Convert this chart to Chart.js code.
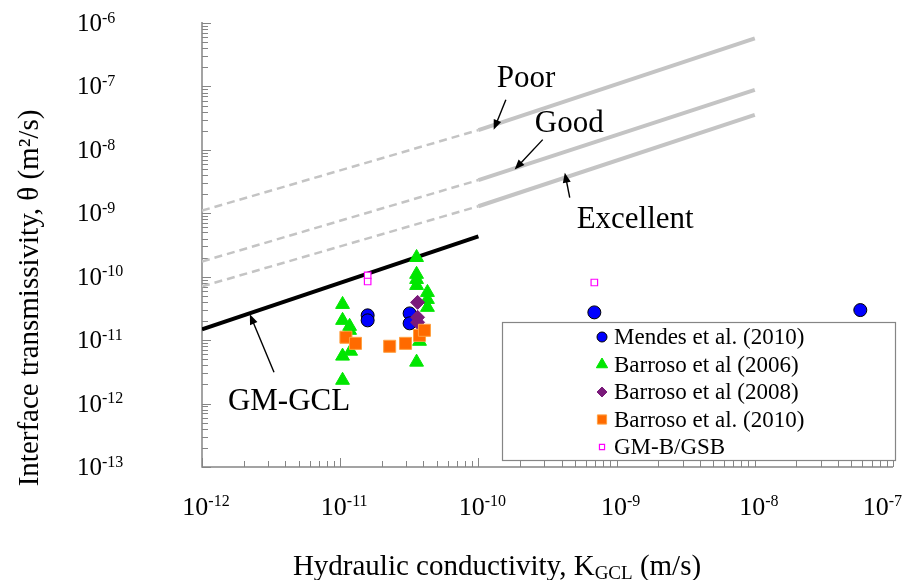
<!DOCTYPE html>
<html>
<head>
<meta charset="utf-8">
<script src="https://cdn.jsdelivr.net/npm/chart.js@4.4.0/dist/chart.umd.min.js"></script>
<style>
  html, body { margin: 0; padding: 0; background: #fff; }
  #wrap { width: 912px; height: 580px; position: relative; }
</style>
</head>
<body>
<div id="wrap"><canvas id="chart" width="912" height="580"></canvas></div>
<script>
// ---- data ----
const xExps = [-12, -11, -10, -9, -8, -7];
const yExps = [-6, -7, -8, -9, -10, -11, -12, -13];

const mendesK = [1.58e-11, 1.58e-11, 3.18e-11, 3.18e-11, 6.9e-10, 5.8e-8];
const mendesT = [2.46e-11, 2.05e-11, 2.64e-11, 1.84e-11, 2.74e-11, 2.98e-11];

const b2006K = [1.04e-11, 1.04e-11, 1.17e-11, 1.17e-11, 1.19e-11, 1.04e-11, 1.04e-11,
                3.57e-11, 3.57e-11, 3.57e-11, 3.57e-11, 4.28e-11, 4.28e-11, 4.28e-11, 3.75e-11, 3.57e-11];
const b2006T = [3.66e-11, 2.05e-11, 1.65e-11, 1.43e-11, 6.7e-12, 5.6e-12, 2.33e-12,
                2.01e-10, 1.09e-10, 9.06e-11, 7.29e-11, 5.66e-11, 4.39e-11, 3.29e-11, 9.6e-12, 4.5e-12];

const b2008K = [3.63e-11, 3.63e-11, 3.63e-11];
const b2008T = [3.94e-11, 2.29e-11, 1.91e-11];

const b2010K = [1.10e-11, 1.29e-11, 2.28e-11, 2.97e-11, 3.75e-11, 4.07e-11];
const b2010T = [1.11e-11, 8.9e-12, 8.0e-12, 8.9e-12, 1.19e-11, 1.43e-11];

const gsbK = [1.58e-11, 1.58e-11, 6.9e-10];
const gsbT = [1.05e-10, 8.4e-11, 8.1e-11];

// performance lines: dashed up to 1e-10, solid beyond
const limitK = [1e-12, 1e-10, 1e-8];
const poorT = [1.10e-9, 2.05e-8, 5.74e-7];
const goodT = [1.74e-10, 3.34e-9, 8.83e-8];
const excellentT = [7.03e-11, 1.29e-9, 3.57e-8];
const gmgclK = [1e-12, 1e-10];
const gmgclT = [1.48e-11, 4.31e-10];

// annotation text + arrows (in data units)
const noteText = ['Poor', 'Good', 'Excellent', 'GM-GCL'];
const noteK = [1.36e-10, 2.56e-10, 5.14e-10, 1.54e-12];
const noteT = [9.84e-8, 1.93e-8, 5.96e-10, 7.87e-13];
const arrowFrom = [[1.58e-10, 6.15e-8], [2.92e-10, 1.45e-8], [4.58e-10, 1.77e-9], [3.32e-12, 3.12e-12]];
const arrowTo = [[1.29e-10, 2.07e-8], [1.83e-10, 4.88e-9], [4.22e-10, 4.37e-9], [2.22e-12, 2.55e-11]];

const legendNames = ['Mendes et al. (2010)', 'Barroso et al (2006)', 'Barroso et al (2008)', 'Barroso et al. (2010)', 'GM-B/GSB'];

const SERIF = '"Liberation Serif", "DejaVu Serif", serif';
const pts = (xs, ys) => xs.map((x, i) => ({ x: x, y: ys[i] }));

const styles = [
  { pointStyle: 'circle', backgroundColor: '#0000ff', borderColor: '#000', borderWidth: 1, radius: 6.5, order: 2 },
  { pointStyle: 'triangle', backgroundColor: '#00e600', borderColor: '#00e600', borderWidth: 1, radius: 8, order: 3 },
  { pointStyle: 'rectRot', backgroundColor: '#7a1a7a', borderColor: '#7a1a7a', borderWidth: 1, radius: 7, order: 1 },
  { pointStyle: 'rect', backgroundColor: '#ff6a00', borderColor: '#ffa040', borderWidth: 1, radius: 8.5, order: 0 },
  { pointStyle: 'rect', backgroundColor: '#ffffff', borderColor: '#ff00ff', borderWidth: 1.2, radius: 4.6, order: 4 }
];
const seriesData = [pts(mendesK, mendesT), pts(b2006K, b2006T), pts(b2008K, b2008T), pts(b2010K, b2010T), pts(gsbK, gsbT)];

const datasets = seriesData.map((d, i) => ({
  label: legendNames[i],
  data: d,
  showLine: false,
  pointStyle: styles[i].pointStyle,
  pointRadius: styles[i].radius,
  pointBackgroundColor: styles[i].backgroundColor,
  pointBorderColor: styles[i].borderColor,
  pointBorderWidth: styles[i].borderWidth,
  order: styles[i].order
}));

[poorT, goodT, excellentT].forEach(t => {
  datasets.push({ data: pts(limitK.slice(0, 2), t.slice(0, 2)), showLine: true, borderColor: '#c4c4c4',
    borderWidth: 2.5, borderDash: [8, 5], pointRadius: 0, order: 10 });
  datasets.push({ data: pts(limitK.slice(1), t.slice(1)), showLine: true, borderColor: '#c4c4c4',
    borderWidth: 4, pointRadius: 0, order: 10 });
});
datasets.push({ data: pts(gmgclK, gmgclT), showLine: true, borderColor: '#000', borderWidth: 4, pointRadius: 0, order: 9 });

// "10" with a raised exponent; returns nothing, draws at baseline baseY
function drawPow(ctx, exp, x, baseY, size, align, maxRight) {
  const supSize = Math.round(size * 0.63);
  ctx.font = size + 'px ' + SERIF;
  const wb = ctx.measureText('10').width;
  ctx.font = supSize + 'px ' + SERIF;
  const ws = ctx.measureText(String(exp)).width;
  let left = align === 'center' ? x - (wb + ws) / 2 : x;
  if (maxRight && left + wb + ws > maxRight) left = maxRight - wb - ws;
  ctx.textAlign = 'left';
  ctx.textBaseline = 'alphabetic';
  ctx.font = size + 'px ' + SERIF;
  ctx.fillText('10', left, baseY);
  ctx.font = supSize + 'px ' + SERIF;
  ctx.fillText(String(exp), left + wb, baseY - size * 0.33);
}

function arrow(ctx, x1, y1, x2, y2) {
  const a = Math.atan2(y2 - y1, x2 - x1);
  const L = 10, W = 4;
  ctx.beginPath();
  ctx.moveTo(x1, y1);
  ctx.lineTo(x2 - Math.cos(a) * L * 0.8, y2 - Math.sin(a) * L * 0.8);
  ctx.stroke();
  ctx.beginPath();
  ctx.moveTo(x2, y2);
  ctx.lineTo(x2 - Math.cos(a) * L + Math.sin(a) * W, y2 - Math.sin(a) * L - Math.cos(a) * W);
  ctx.lineTo(x2 - Math.cos(a) * L - Math.sin(a) * W, y2 - Math.sin(a) * L + Math.cos(a) * W);
  ctx.closePath();
  ctx.fill();
}

const decor = {
  id: 'decor',
  beforeDatasetsDraw(chart) {
    const { ctx, chartArea: ca, scales: { x, y } } = chart;
    ctx.save();
    ctx.strokeStyle = '#858585';
    ctx.lineWidth = 1.5;
    ctx.beginPath();
    ctx.moveTo(ca.left, ca.top - 1);
    ctx.lineTo(ca.left, ca.bottom);
    ctx.lineTo(ca.right, ca.bottom);
    ctx.stroke();

    // inward ticks, major per decade and minor at 2..9
    ctx.lineWidth = 1;
    ctx.beginPath();
    yExps.forEach(e => {
      const py = Math.round(y.getPixelForValue(Math.pow(10, e))) + 0.5;
      ctx.moveTo(ca.left, py); ctx.lineTo(ca.left + 9, py);
    });
    for (let e = -13; e < -6; e++) {
      for (let m = 2; m <= 9; m++) {
        const py = Math.round(y.getPixelForValue(m * Math.pow(10, e))) + 0.5;
        ctx.moveTo(ca.left, py); ctx.lineTo(ca.left + 6, py);
      }
    }
    xExps.forEach(e => {
      const px = Math.round(x.getPixelForValue(Math.pow(10, e))) + 0.5;
      ctx.moveTo(px, ca.bottom); ctx.lineTo(px, ca.bottom - 9);
    });
    for (let e = -12; e < -7; e++) {
      for (let m = 2; m <= 9; m++) {
        const px = Math.round(x.getPixelForValue(m * Math.pow(10, e))) + 0.5;
        ctx.moveTo(px, ca.bottom); ctx.lineTo(px, ca.bottom - 6);
      }
    }
    ctx.stroke();

    // tick labels
    ctx.fillStyle = '#000';
    yExps.forEach(e => {
      const py = y.getPixelForValue(Math.pow(10, e));
      drawPow(ctx, e, 77, py + 8, 25, 'left');
    });
    xExps.forEach(e => {
      const px = x.getPixelForValue(Math.pow(10, e));
      drawPow(ctx, e, px + 4, 515, 26, 'center', 902);
    });

    // axis titles
    ctx.font = '29px ' + SERIF;
    ctx.textAlign = 'center';
    ctx.textBaseline = 'middle';
    ctx.save();
    ctx.translate(30, 298);
    ctx.rotate(-Math.PI / 2);
    ctx.fillText('Interface transmissivity, \u03b8 (m\u00b2/s)', 0, 0);
    ctx.restore();

    const t1 = 'Hydraulic conductivity, K', t2 = 'GCL', t3 = ' (m/s)';
    ctx.textAlign = 'left';
    ctx.textBaseline = 'alphabetic';
    ctx.font = '29px ' + SERIF;
    const w1 = ctx.measureText(t1).width, w3 = ctx.measureText(t3).width;
    ctx.font = '19px ' + SERIF;
    const w2 = ctx.measureText(t2).width;
    let sx = 497 - (w1 + w2 + w3) / 2;
    ctx.font = '29px ' + SERIF;
    ctx.fillText(t1, sx, 575);
    ctx.font = '19px ' + SERIF;
    ctx.fillText(t2, sx + w1, 579);
    ctx.font = '29px ' + SERIF;
    ctx.fillText(t3, sx + w1 + w2, 575);
    ctx.restore();
  },
  afterDatasetsDraw(chart) {
    const { ctx, scales: { x, y } } = chart;
    ctx.save();
    ctx.fillStyle = '#000';
    ctx.strokeStyle = '#000';
    ctx.lineWidth = 1.4;
    arrowFrom.forEach((f, i) => {
      arrow(ctx, x.getPixelForValue(f[0]), y.getPixelForValue(f[1]),
        x.getPixelForValue(arrowTo[i][0]), y.getPixelForValue(arrowTo[i][1]));
    });
    ctx.font = '31px ' + SERIF;
    ctx.textAlign = 'left';
    ctx.textBaseline = 'alphabetic';
    noteText.forEach((t, i) => {
      ctx.fillText(t, x.getPixelForValue(noteK[i]), y.getPixelForValue(noteT[i]));
    });

    // legend box
    const bx = 502, by = 322, bw = 393, bh = 138;
    ctx.fillStyle = '#fff';
    ctx.fillRect(bx, by, bw, bh);
    ctx.strokeStyle = '#858585';
    ctx.lineWidth = 1.2;
    ctx.strokeRect(bx + 0.5, by + 0.5, bw, bh);
    const legR = [5, 6.5, 5, 6.5, 3.6];
    legendNames.forEach((name, i) => {
      const ly = by + 15 + i * 27.5;
      const s = styles[i];
      ctx.fillStyle = s.backgroundColor;
      ctx.strokeStyle = s.borderColor;
      ctx.lineWidth = s.borderWidth;
      Chart.helpers.drawPoint(ctx, { pointStyle: s.pointStyle, radius: legR[i], borderWidth: s.borderWidth, rotation: 0 }, 602, ly);
      ctx.fillStyle = '#000';
      ctx.font = '23px ' + SERIF;
      ctx.textBaseline = 'middle';
      ctx.fillText(name, 614, ly + 1);
    });
    ctx.restore();
  }
};

new Chart(document.getElementById('chart'), {
  type: 'scatter',
  data: { datasets: datasets },
  options: {
    responsive: false,
    animation: false,
    devicePixelRatio: 1,
    layout: { padding: { left: 202, right: 19, top: 23, bottom: 113 } },
    plugins: { legend: { display: false }, tooltip: { enabled: false } },
    scales: {
      x: { type: 'logarithmic', min: 1e-12, max: 1e-7, display: false },
      y: { type: 'logarithmic', min: 1e-13, max: 1e-6, display: false }
    }
  },
  plugins: [decor]
});
</script>
</body>
</html>
